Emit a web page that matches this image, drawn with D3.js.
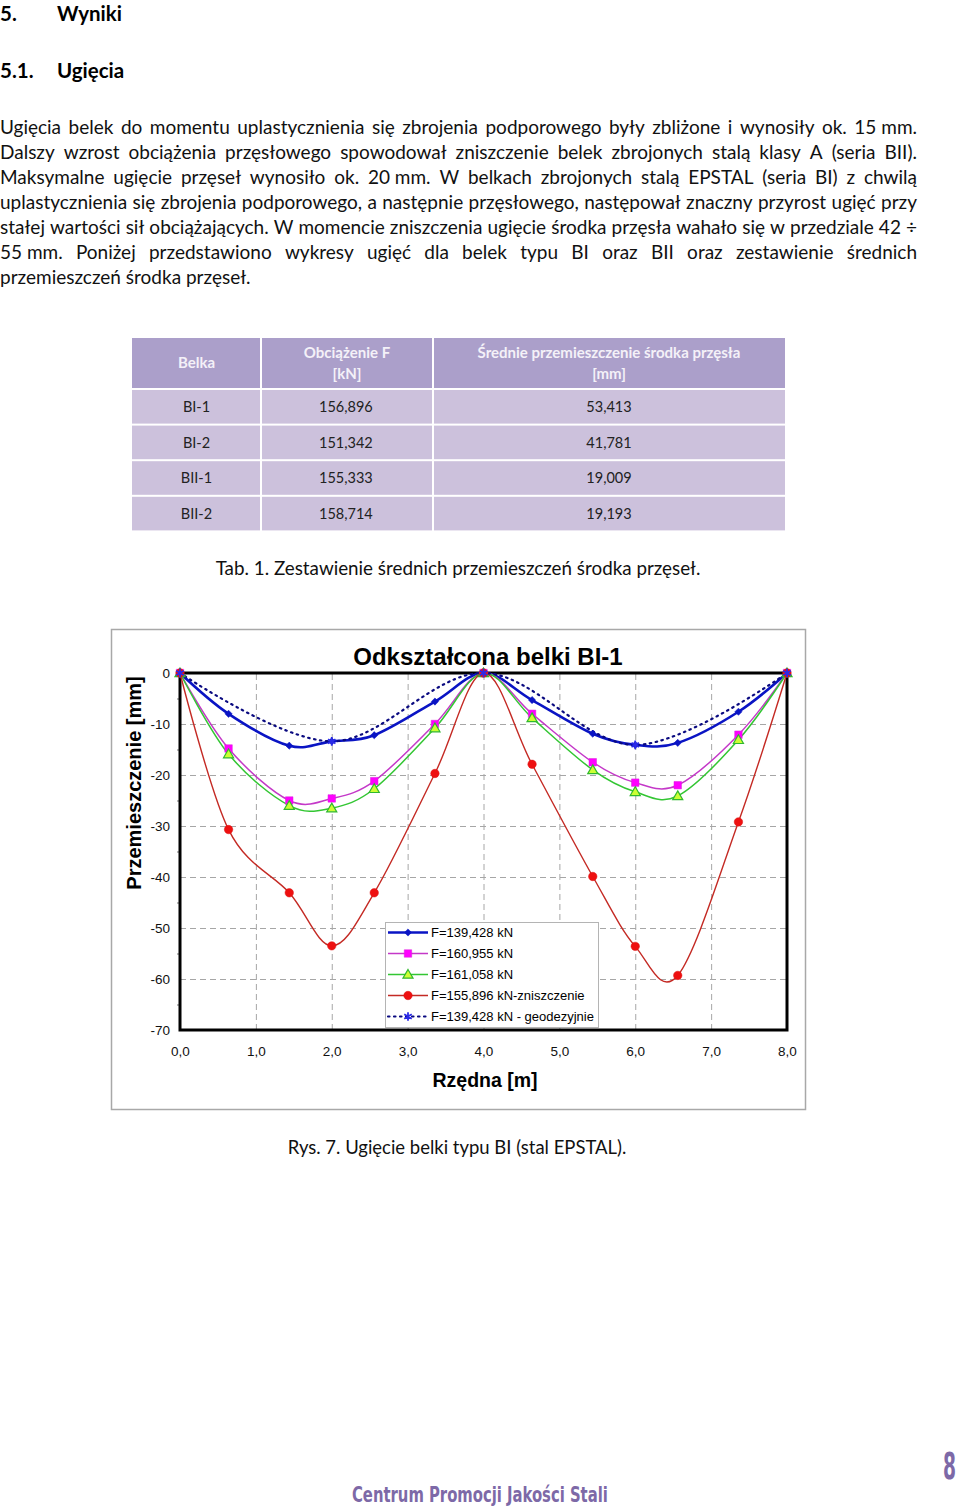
<!DOCTYPE html>
<html><head><meta charset="utf-8">
<script src="https://cdn.jsdelivr.net/npm/d3@7"></script>
<style>body{margin:0;background:#fff}svg{display:block}</style>
</head><body>
<svg id="page" width="960" height="1508"></svg>
<script>
// ---------- DATA ----------
const headingNumbers = ["5.", "5.1."];
const headingTexts = ["Wyniki", "Ugięcia"];
const paragraphLines = [
  "Ugięcia belek do momentu uplastycznienia się zbrojenia podporowego były zbliżone i wynosiły ok. 15\u00A0mm.",
  "Dalszy wzrost obciążenia przęsłowego spowodował zniszczenie belek zbrojonych stalą klasy A (seria BII).",
  "Maksymalne ugięcie przęseł wynosiło ok. 20\u00A0mm. W belkach zbrojonych stalą EPSTAL (seria BI) z chwilą",
  "uplastycznienia się zbrojenia podporowego, a następnie przęsłowego, następował znaczny przyrost ugięć przy",
  "stałej wartości sił obciążających. W momencie zniszczenia ugięcie środka przęsła wahało się w przedziale 42 ÷",
  "55\u00A0mm. Poniżej przedstawiono wykresy ugięć dla belek typu BI oraz BII oraz zestawienie średnich",
  "przemieszczeń środka przęseł."
];
const tableHeader = [["Belka"], ["Obciążenie F", "[kN]"], ["Średnie przemieszczenie środka przęsła", "[mm]"]];
const beams = ["BI-1", "BI-2", "BII-1", "BII-2"];
const loads = ["156,896", "151,342", "155,333", "158,714"];
const midspanDisp = ["53,413", "41,781", "19,009", "19,193"];
const tableCaption = "Tab. 1. Zestawienie średnich przemieszczeń środka przęseł.";
const figureCaption = "Rys. 7. Ugięcie belki typu BI (stal EPSTAL).";
const footerText = "Centrum Promocji Jakości Stali";
const pageNumber = "8";

const chartTitle = "Odkształcona belki BI-1";
const yAxisTitle = "Przemieszczenie [mm]";
const xAxisTitle = "Rzędna [m]";
const xTicks = [0, 1, 2, 3, 4, 5, 6, 7, 8];
const yTicks = [0, -10, -20, -30, -40, -50, -60, -70];

const xMeas = [0, 0.64, 1.44, 2.0, 2.56, 3.36, 4.0, 4.64, 5.44, 6.0, 6.56, 7.36, 8.0];
const yF139 = [0, -8.0, -14.25, -13.4, -12.2, -5.6, 0, -5.3, -11.9, -14.1, -13.7, -7.6, 0];
const yF160 = [0, -14.8, -25.0, -24.6, -21.2, -10.0, 0, -8.0, -17.5, -21.5, -22.0, -12.1, 0];
const yF161 = [0, -15.9, -26.0, -26.5, -22.7, -10.8, 0, -8.8, -19.0, -23.3, -24.1, -13.1, 0];
const yF155 = [0, -30.7, -43.1, -53.5, -43.1, -19.7, 0, -17.9, -39.9, -53.6, -59.3, -29.2, 0];
const xGeo = [0, 2, 4, 6, 8];
const yGeo = [0, -13.4, 0, -14.1, 0];
const seriesLabels = ["F=139,428 kN", "F=160,955 kN", "F=161,058 kN", "F=155,896 kN-zniszczenie", "F=139,428 kN - geodezyjnie"];

// ---------- HELPERS ----------
const svg = d3.select("#page");
const ctx = document.createElement("canvas").getContext("2d");
function textW(s, size, weight, family) { ctx.font = `${weight} ${size}px ${family}`; return ctx.measureText(s).width; }
const bodyFont = "Lato";

// ---------- HEADINGS ----------
const headY = [20.5, 78];
headingNumbers.forEach((n, i) => {
  svg.append("text").attr("x", 0).attr("y", headY[i]).attr("font-family", bodyFont).attr("font-weight", 700)
    .attr("font-size", 20.5).attr("fill", "#000").text(n);
  svg.append("text").attr("x", 57).attr("y", headY[i]).attr("font-family", bodyFont).attr("font-weight", 700)
    .attr("font-size", 20.5).attr("fill", "#000").text(headingTexts[i]);
});

// ---------- PARAGRAPH (justified) ----------
const parW = 917;
let fs = 19;
paragraphLines.slice(0, 6).forEach(l => {
  const nat = textW(l, 18, 400, bodyFont);
  fs = Math.min(fs, 18 * (parW - 2) / nat);
});
paragraphLines.forEach((line, i) => {
  const y = 134 + i * 25;
  const words = line.split(" ");
  const widths = words.map(w => textW(w, fs, 400, bodyFont));
  const total = d3.sum(widths);
  const justify = i < paragraphLines.length - 1;
  const gap = justify ? (parW - total) / (words.length - 1) : textW(" ", fs, 400, bodyFont);
  let x = 0;
  words.forEach((w, j) => {
    svg.append("text").attr("x", x).attr("y", y).attr("font-family", bodyFont).attr("font-size", fs)
      .attr("fill", "#111").text(w);
    x += widths[j] + gap;
  });
});

// ---------- TABLE ----------
const colEdges = [132, 261, 433, 785];
const headTop = 338, headH = 50, rowTop0 = 390, rowStep = 35.6, rowH = 33.6;
const tbl = svg.append("g");
tableHeader.forEach((lines, c) => {
  tbl.append("rect").attr("x", colEdges[c] + (c ? 1 : 0)).attr("y", headTop)
    .attr("width", colEdges[c + 1] - colEdges[c] - (c ? 1 : 0) - (c < 2 ? 1 : 0)).attr("height", headH).attr("fill", "#ab9fca");
  const cx = (colEdges[c] + colEdges[c + 1]) / 2;
  const ys0 = lines.length === 1 ? [368] : [358, 379];
  lines.forEach((t, k) => tbl.append("text").attr("x", cx).attr("y", ys0[k]).attr("text-anchor", "middle")
    .attr("font-family", bodyFont).attr("font-weight", 700).attr("font-size", 15).attr("fill", "#f4f1f8").text(t));
});
const rows = beams.map((b, i) => [b, loads[i], midspanDisp[i]]);
rows.forEach((r, i) => {
  const top = rowTop0 + i * rowStep;
  r.forEach((v, c) => {
    tbl.append("rect").attr("x", colEdges[c] + (c ? 1 : 0)).attr("y", top)
      .attr("width", colEdges[c + 1] - colEdges[c] - (c ? 1 : 0) - (c < 2 ? 1 : 0)).attr("height", rowH).attr("fill", "#ccc1dc");
    const t = tbl.append("text").attr("y", top + 22).attr("font-family", bodyFont).attr("font-size", 14.5).attr("fill", "#222").text(v);
    if (c === 1) t.attr("x", 319);
    else t.attr("x", (colEdges[c] + colEdges[c + 1]) / 2).attr("text-anchor", "middle");
  });
});
function captionSize(s, target) { return 18 * target / textW(s, 18, 400, bodyFont); }
svg.append("text").attr("x", 458).attr("y", 575).attr("text-anchor", "middle").attr("font-family", bodyFont)
  .attr("font-size", captionSize(tableCaption, 485)).attr("fill", "#111").text(tableCaption);

// ---------- CHART ----------
const chartFont = "'Liberation Sans', Arial, sans-serif";
const x = d3.scaleLinear().domain([0, 8]).range([180, 787]);
const y = d3.scaleLinear().domain([0, -70]).range([673, 1030]);
const ch = svg.append("g");
ch.append("rect").attr("x", 111.5).attr("y", 629.5).attr("width", 694).attr("height", 480)
  .attr("fill", "#fff").attr("stroke", "#a8a8a8").attr("stroke-width", 1.5);

// gridlines
ch.append("g").attr("transform", `translate(0,${y(-70)})`)
  .call(d3.axisBottom(x).tickValues(xTicks.slice(1, -1)).tickSize(-(y(-70) - y(0))).tickFormat(""))
  .call(g => g.select(".domain").remove())
  .selectAll("line").attr("stroke", "#a6a6a6").attr("stroke-dasharray", "6,4");
ch.append("g").attr("transform", `translate(${x(0)},0)`)
  .call(d3.axisLeft(y).tickValues(yTicks.slice(1, -1)).tickSize(-(x(8) - x(0))).tickFormat(""))
  .call(g => g.select(".domain").remove())
  .selectAll("line").attr("stroke", "#a6a6a6").attr("stroke-dasharray", "6,4");

// minor ticks on left axis
ch.append("g").attr("transform", `translate(${x(0)},0)`)
  .call(d3.axisLeft(y).tickValues(d3.range(-5, -70, -10)).tickSize(3).tickFormat(""))
  .call(g => g.select(".domain").remove())
  .selectAll("line").attr("stroke", "#777");

// tick labels
ch.append("g").attr("transform", `translate(${x(0)},0)`)
  .call(d3.axisLeft(y).tickValues(yTicks).tickSize(0).tickPadding(10).tickFormat(d => String(d)))
  .call(g => g.select(".domain").remove())
  .selectAll("text").attr("font-family", chartFont).attr("font-size", 13.5).attr("fill", "#111");
ch.append("g").attr("transform", `translate(0,${y(-70)})`)
  .call(d3.axisBottom(x).tickValues(xTicks).tickSize(0).tickPadding(16).tickFormat(d => d.toFixed(1).replace(".", ",")))
  .call(g => g.select(".domain").remove())
  .selectAll("text").attr("font-family", chartFont).attr("font-size", 13.5).attr("fill", "#111");

// plot border
ch.append("rect").attr("x", x(0)).attr("y", y(0)).attr("width", x(8) - x(0)).attr("height", y(-70) - y(0))
  .attr("fill", "none").attr("stroke", "#000").attr("stroke-width", 3);

// series
const curve = d3.curveCardinal.tension(0);
const line = d3.line().x(d => x(d[0])).y(d => y(d[1])).curve(curve);
const series = [
  { xs: xMeas, ys: yF139, stroke: "#0a14c4", width: 2.6, dash: null, sym: "diamond", fill: "#0a14c4", mstroke: "#0a14c4" },
  { xs: xMeas, ys: yF160, stroke: "#c438c8", width: 1.5, dash: null, sym: "square", fill: "#ff00ff", mstroke: "#dd22dd" },
  { xs: xMeas, ys: yF161, stroke: "#33c633", width: 1.5, dash: null, sym: "triangle", fill: "#ccff33", mstroke: "#2fb82f" },
  { xs: xMeas, ys: yF155, stroke: "#c42a24", width: 1.4, dash: null, sym: "circle", fill: "#ee1010", mstroke: "#dd1010" },
  { xs: xGeo, ys: yGeo, stroke: "#0a0a80", width: 2.2, dash: "1.5,4.5", sym: "asterisk", fill: "none", mstroke: "#2a2ae8" }
];
const symPath = {
  diamond: d3.symbol(d3.symbolSquare, 26)(),
  square: d3.symbol(d3.symbolSquare, 56)(),
  triangle: d3.symbol(d3.symbolTriangle, 44)(),
  circle: d3.symbol(d3.symbolCircle, 56)(),
  asterisk: d3.symbol(d3.symbolAsterisk, 52)()
};
function drawMarker(g, s, px, py) {
  const p = g.append("path").attr("d", symPath[s.sym])
    .attr("transform", `translate(${px},${py})` + (s.sym === "diamond" ? " rotate(45)" : "") + (s.sym === "triangle" ? " translate(0,0.8)" : ""));
  if (s.sym === "asterisk") p.attr("fill", "none").attr("stroke", s.mstroke).attr("stroke-width", 1.8);
  else p.attr("fill", s.fill).attr("stroke", s.mstroke).attr("stroke-width", s.sym === "triangle" ? 1.2 : 0.5);
}
series.forEach(s => {
  const pts = s.xs.map((v, i) => [v, s.ys[i]]);
  const path = ch.append("path").attr("d", line(pts)).attr("fill", "none").attr("stroke", s.stroke)
    .attr("stroke-width", s.width).attr("stroke-linejoin", "round");
  if (s.dash) path.attr("stroke-dasharray", s.dash).attr("stroke-linecap", "round");
});
series.forEach(s => {
  s.xs.forEach((v, i) => drawMarker(ch, s, x(v), y(s.ys[i])));
});

// legend
const lg = ch.append("g");
lg.append("rect").attr("x", 385.5).attr("y", 922.5).attr("width", 213).attr("height", 105)
  .attr("fill", "#fff").attr("stroke", "#b4b4b4").attr("stroke-width", 1);
series.forEach((s, i) => {
  const ly = 932.5 + i * 21;
  const l = lg.append("line").attr("x1", 388).attr("x2", 428).attr("y1", ly).attr("y2", ly)
    .attr("stroke", s.stroke).attr("stroke-width", s.width);
  if (s.dash) l.attr("stroke-dasharray", s.dash).attr("stroke-linecap", "round");
  drawMarker(lg, s, 408, ly);
  lg.append("text").attr("x", 431).attr("y", ly + 4.6).attr("font-family", chartFont).attr("font-size", 13)
    .attr("fill", "#000").text(seriesLabels[i]);
});

// titles
ch.append("text").attr("x", 488).attr("y", 665).attr("text-anchor", "middle").attr("font-family", chartFont)
  .attr("font-weight", 700).attr("font-size", 24).attr("fill", "#000").text(chartTitle);
ch.append("text").attr("transform", "translate(141,783) rotate(-90)").attr("text-anchor", "middle")
  .attr("font-family", chartFont).attr("font-weight", 700).attr("font-size", 20).attr("fill", "#000").text(yAxisTitle);
ch.append("text").attr("x", 485).attr("y", 1087).attr("text-anchor", "middle").attr("font-family", chartFont)
  .attr("font-weight", 700).attr("font-size", 19.5).attr("fill", "#000").text(xAxisTitle);

svg.append("text").attr("x", 457).attr("y", 1154).attr("text-anchor", "middle").attr("font-family", bodyFont)
  .attr("font-size", captionSize(figureCaption, 339)).attr("fill", "#111").text(figureCaption);

// footer (condensed via horizontal scaling)
const condFont = "'DejaVu Sans Condensed', 'DejaVu Sans', sans-serif";
const footW = textW(footerText, 21.5, 700, condFont);
svg.append("text").attr("transform", `translate(352,1502) scale(${256 / footW},1)`).attr("font-family", condFont)
  .attr("font-weight", 700).attr("font-size", 21.5).attr("fill", "#7d69a7").text(footerText);
const numW = textW(pageNumber, 37, 700, condFont);
svg.append("text").attr("transform", `translate(943,1479) scale(${13 / numW},1)`).attr("font-family", condFont)
  .attr("font-weight", 700).attr("font-size", 37).attr("fill", "#7d69a7").text(pageNumber);
</script>
</body></html>
